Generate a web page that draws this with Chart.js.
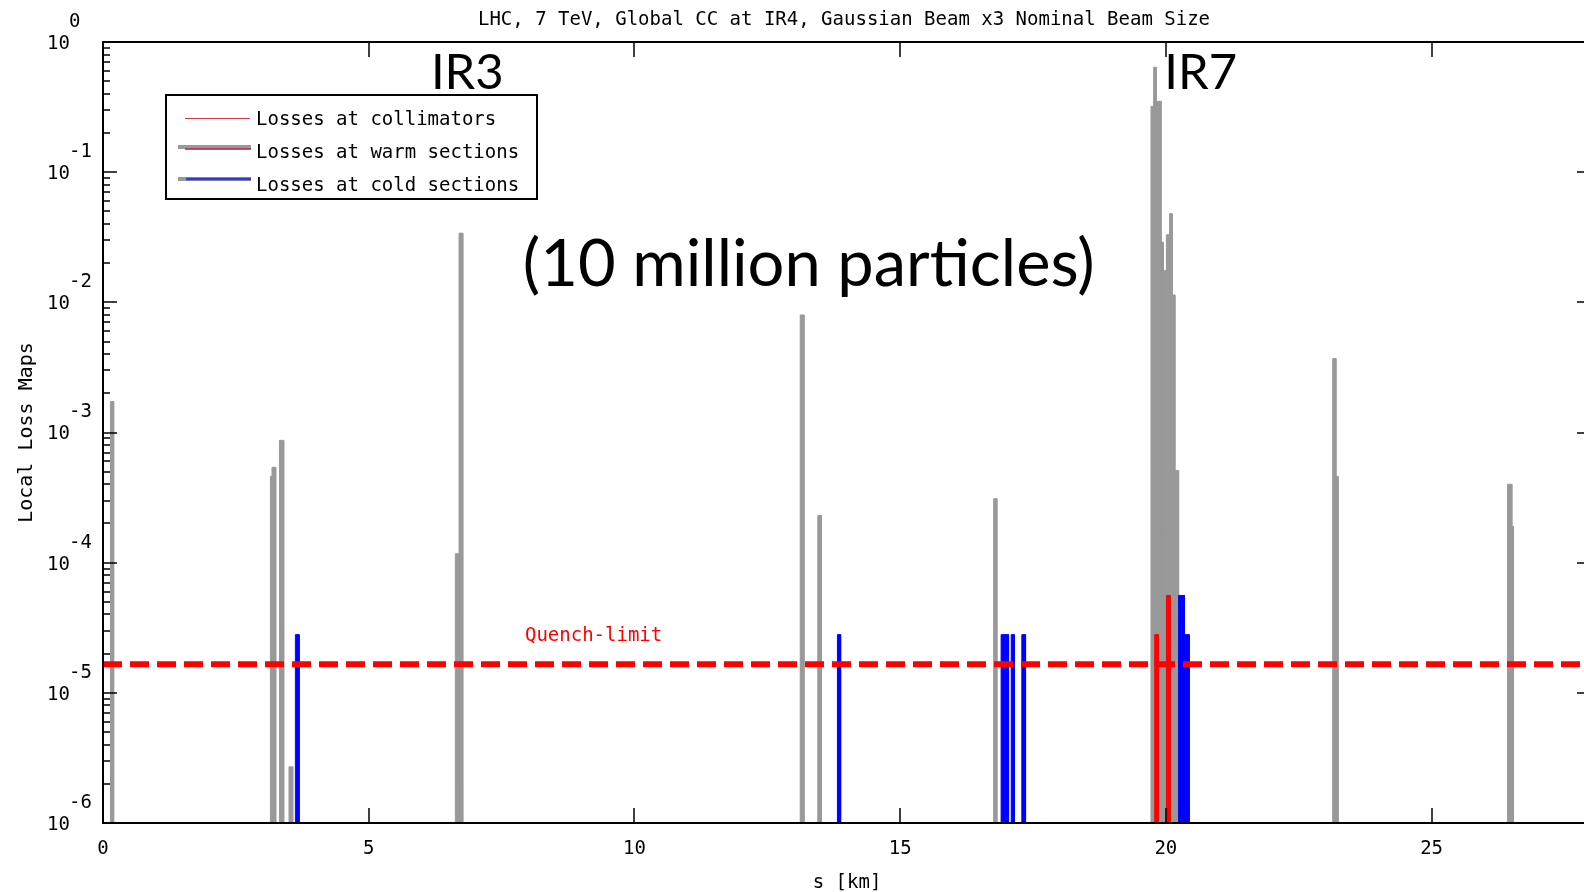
<!DOCTYPE html>
<html>
<head>
<meta charset="utf-8">
<script src="https://cdn.jsdelivr.net/npm/chart.js@4.4.0/dist/chart.umd.min.js"></script>
<style>
  html, body { margin: 0; padding: 0; background: #fff; overflow: hidden; }
  #wrap { width: 1600px; height: 892px; }
</style>
</head>
<body>
<div id="wrap"><canvas id="lossChart" width="1600" height="892"></canvas></div>
<script>
// loss bins: start s [km], end s [km], local loss
var collimatorStart = [0.14, 3.15, 3.18, 3.32, 3.50, 6.63, 6.70, 13.12, 13.45, 16.76,
  19.72, 19.77, 19.82, 19.91, 19.95, 20.01, 20.07, 20.12, 20.17, 23.14, 23.20, 26.43, 26.51];
var collimatorEnd = [0.20, 3.18, 3.25, 3.40, 3.57, 6.70, 6.77, 13.19, 13.52, 16.82,
  19.77, 19.82, 19.91, 19.95, 20.01, 20.07, 20.12, 20.17, 20.24, 23.20, 23.24, 26.51, 26.54];
var collimatorLoss = [1.73e-3, 4.6e-4, 5.4e-4, 8.7e-4, 2.7e-6, 1.17e-4, 3.4e-2, 8.0e-3, 2.3e-4, 3.1e-4,
  0.32, 0.64, 0.35, 0.029, 0.0175, 0.033, 0.048, 0.0114, 5.1e-4, 3.7e-3, 4.6e-4, 4.0e-4, 1.9e-4];

var warmStart = [19.79, 20.01];
var warmEnd = [19.86, 20.08];
var warmLoss = [2.8e-5, 5.6e-5];

var coldStart = [3.62, 13.82, 16.90, 17.09, 17.29, 20.24, 20.35];
var coldEnd = [3.69, 13.88, 17.04, 17.15, 17.36, 20.35, 20.44];
var coldLoss = [2.8e-5, 2.8e-5, 2.8e-5, 2.8e-5, 2.8e-5, 5.6e-5, 2.8e-5];

var quenchLimit = 1.66e-5;
var sRange = [0, 28];
var lossRange = [1e-6, 1];
var xTicks = [0, 5, 10, 15, 20, 25];
var yDecades = [0, -1, -2, -3, -4, -5, -6];

// text placed in data coordinates (like matlab text())
var noteText = ['IR3', 'IR7', '(10 million particles)'];
var noteS = [6.17, 19.97, 7.90];
var noteLoss = [0.435, 0.435, 0.0134];
var noteSize = [49, 49, 65];

var mono = 'DejaVu Sans Mono';
var big = 'Lato';
var gray = 'rgb(153,153,153)';

function binsToPoints(starts, ends, vals) {
  var pts = [];
  for (var i = 0; i < starts.length; i++) {
    pts.push({x: starts[i], y: lossRange[0]});
    pts.push({x: starts[i], y: vals[i]});
    pts.push({x: ends[i], y: vals[i]});
    pts.push({x: ends[i], y: lossRange[0]});
  }
  return pts;
}

function seg(ctx, x1, y1, x2, y2) {
  ctx.beginPath();
  ctx.moveTo(x1, y1);
  ctx.lineTo(x2, y2);
  ctx.stroke();
}

var framePlugin = {
  id: 'frame',
  afterDatasetsDraw: function (chart) {
    var ctx = chart.ctx, a = chart.chartArea;
    var xs = chart.scales.x, ys = chart.scales.y;
    ctx.save();

    // ticks, pointing inward
    ctx.strokeStyle = '#000';
    ctx.lineWidth = 1.5;
    xTicks.forEach(function (v) {
      var px = Math.round(xs.getPixelForValue(v));
      seg(ctx, px, a.bottom, px, a.bottom - 15);
      seg(ctx, px, a.top, px, a.top + 15);
    });
    yDecades.forEach(function (e) {
      var py = Math.round(ys.getPixelForValue(Math.pow(10, e)));
      seg(ctx, a.left, py, a.left + 14, py);
      seg(ctx, a.right, py, a.right - 14, py);
      if (e > -6) {
        for (var m = 2; m <= 9; m++) {
          var pm = Math.round(ys.getPixelForValue(m * Math.pow(10, e - 1)));
          seg(ctx, a.left, pm, a.left + 7, pm);
          seg(ctx, a.right, pm, a.right - 7, pm);
        }
      }
    });

    // box
    ctx.lineWidth = 2;
    ctx.strokeRect(a.left, a.top, a.right - a.left, a.bottom - a.top);

    // y tick labels 10^e
    ctx.fillStyle = '#000';
    ctx.font = '19px "' + mono + '"';
    ctx.textBaseline = 'middle';
    yDecades.forEach(function (e) {
      var py = ys.getPixelForValue(Math.pow(10, e));
      ctx.textAlign = 'right';
      ctx.fillText('10', 70, py + 2);
      ctx.textAlign = 'left';
      ctx.fillText(String(e), 69, py - 20);
    });

    // plot title
    ctx.textAlign = 'center';
    ctx.fillText('LHC, 7 TeV, Global CC at IR4, Gaussian Beam x3 Nominal Beam Size', 844, 20);

    // quench limit label
    ctx.fillStyle = 'rgb(255,0,0)';
    ctx.textAlign = 'left';
    ctx.fillText('Quench-limit', xs.getPixelForValue(7.94), ys.getPixelForValue(quenchLimit) - 28);

    // big notes
    ctx.fillStyle = '#000';
    ctx.textBaseline = 'alphabetic';
    for (var i = 0; i < noteText.length; i++) {
      ctx.font = noteSize[i] + 'px "' + big + '"';
      ctx.fillText(noteText[i], xs.getPixelForValue(noteS[i]), ys.getPixelForValue(noteLoss[i]));
    }

    // legend box
    var lx = 166, ly = 95, lw = 371, lh = 104;
    ctx.fillStyle = '#fff';
    ctx.fillRect(lx, ly, lw, lh);
    ctx.strokeStyle = '#000';
    ctx.lineWidth = 2;
    ctx.strokeRect(lx, ly, lw, lh);

    ctx.lineWidth = 1;
    ctx.strokeStyle = 'rgb(205,60,60)';
    seg(ctx, 185, 118.5, 250, 118.5);

    ctx.lineWidth = 4;
    ctx.strokeStyle = gray;
    seg(ctx, 178, 147, 251, 147);
    ctx.lineWidth = 1.5;
    ctx.strokeStyle = 'rgb(200,20,80)';
    seg(ctx, 185, 149, 251, 149);

    ctx.lineWidth = 4;
    ctx.strokeStyle = gray;
    seg(ctx, 178, 179, 251, 179);
    ctx.lineWidth = 2.5;
    ctx.strokeStyle = 'rgb(50,60,210)';
    seg(ctx, 186, 179, 251, 179);

    ctx.fillStyle = '#000';
    ctx.font = '19px "' + mono + '"';
    ctx.textBaseline = 'middle';
    ctx.textAlign = 'left';
    ctx.fillText('Losses at collimators', 256, 120);
    ctx.fillText('Losses at warm sections', 256, 153);
    ctx.fillText('Losses at cold sections', 256, 186);

    ctx.restore();
  }
};

var ctx = document.getElementById('lossChart');
var lossChart = new Chart(ctx, {
  type: 'line',
  data: {
    datasets: [
      {
        label: 'Quench-limit',
        data: [{x: sRange[0], y: quenchLimit}, {x: sRange[1], y: quenchLimit}],
        borderColor: 'rgb(255,0,0)',
        borderWidth: 6,
        borderDash: [19, 8],
        borderCapStyle: 'butt',
        fill: false,
        pointRadius: 0,
        order: 0
      },
      {
        label: 'Losses at warm sections',
        data: binsToPoints(warmStart, warmEnd, warmLoss),
        borderColor: 'rgb(255,0,0)',
        backgroundColor: 'rgb(255,0,0)',
        borderWidth: 1,
        fill: 'start',
        pointRadius: 0,
        tension: 0,
        order: 1
      },
      {
        label: 'Losses at cold sections',
        data: binsToPoints(coldStart, coldEnd, coldLoss),
        borderColor: 'rgb(0,0,255)',
        backgroundColor: 'rgb(0,0,255)',
        borderWidth: 1,
        fill: 'start',
        pointRadius: 0,
        tension: 0,
        order: 2
      },
      {
        label: 'Losses at collimators',
        data: binsToPoints(collimatorStart, collimatorEnd, collimatorLoss),
        borderColor: gray,
        backgroundColor: gray,
        borderWidth: 1,
        fill: 'start',
        pointRadius: 0,
        tension: 0,
        order: 3
      }
    ]
  },
  options: {
    responsive: false,
    animation: false,
    layout: { padding: { top: 42, right: 9, left: 0, bottom: 0 } },
    plugins: {
      legend: { display: false },
      tooltip: { enabled: false },
      title: { display: false }
    },
    scales: {
      x: {
        type: 'linear',
        min: sRange[0],
        max: sRange[1],
        grid: { display: false },
        border: { display: false },
        ticks: {
          stepSize: 5,
          includeBounds: false,
          maxRotation: 0,
          padding: 7,
          color: '#000',
          font: { family: mono, size: 19 }
        },
        title: {
          display: true,
          text: 's [km]',
          color: '#000',
          padding: { top: 0, bottom: -2 },
          font: { family: mono, size: 19 }
        },
        afterFit: function (scale) { scale.height = 69; }
      },
      y: {
        type: 'logarithmic',
        min: lossRange[0],
        max: lossRange[1],
        grid: { display: false },
        border: { display: false },
        ticks: { display: false },
        title: {
          display: true,
          text: 'Local Loss Maps',
          color: '#000',
          padding: { top: 15, bottom: 0 },
          font: { family: mono, size: 20 }
        },
        afterFit: function (scale) { scale.width = 103; }
      }
    }
  },
  plugins: [framePlugin]
});
</script>
</body>
</html>
